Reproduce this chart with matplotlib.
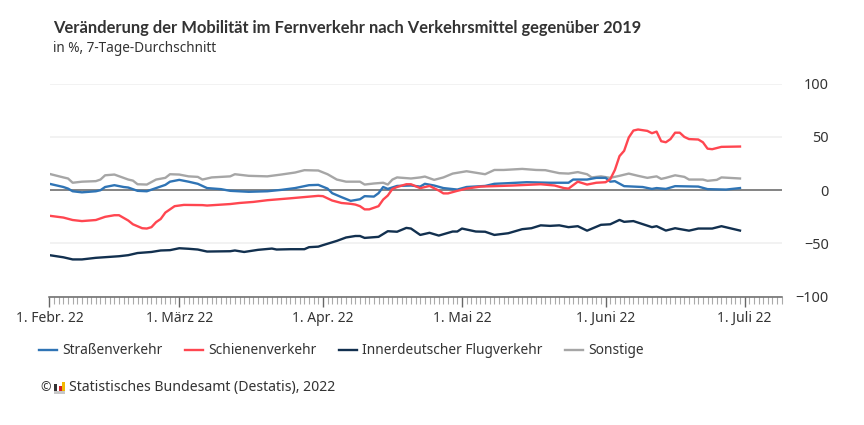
import pandas as pd
import matplotlib
matplotlib.use('Agg')
import matplotlib.pyplot as plt
from matplotlib.lines import Line2D
from matplotlib.patches import Rectangle

plt.rcParams['font.family'] = ['Noto Sans', 'DejaVu Sans']

START = pd.Timestamp('2022-02-01')

# Werte: Tag seit 1. Februar, Veraenderung in %
strasse_tage = [0, 3, 4, 5, 7, 10, 11, 12, 14, 16, 17, 19, 21, 23, 25, 26, 28, 30, 32, 34, 37, 39, 43, 47, 50, 53,
                56, 58, 60, 61, 63, 65, 67, 68, 70, 71, 72, 73, 75, 78, 80, 81, 83, 85, 88, 90, 94, 96, 99, 103,
                108, 110, 112, 113, 116, 118, 120, 121, 122, 124, 128, 130, 131, 133, 135, 140, 142, 146, 149]
strasse = [6, 3, 1.5, -1, -2, -1, 0, 3, 4.7, 3, 2.5, -0.6, -1, 2, 5, 8, 9.7, 8, 6, 2, 1, -0.6, -1.5, -1, 0.3, 2,
           4.7, 5, 1.5, -2.8, -6.5, -10, -8.5, -5.6, -6, -2.8, 3, 1.2, 4, 4.4, 3.4, 6, 4.4, 2, 0.6, 3, 4, 6, 6.6, 7.5,
           7, 7, 7, 10, 10, 11.6, 11.6, 8, 8.5, 3.8, 3, 1.2, 2, 1.2, 3.8, 3.4, 1, 0.6, 2]

schiene_tage = [0, 3, 5, 7, 10, 12, 14, 15, 17, 18, 20, 21, 22, 23, 24, 25, 27, 29, 33, 34, 39, 41, 44, 47, 52,
                58, 59, 61, 63, 65, 66, 67, 68, 69, 71, 72, 73, 74, 75, 77, 78, 80, 82, 84, 85, 86, 88, 90, 93, 96,
                100, 106, 109, 111, 112, 114, 116, 118, 120, 121, 122, 123, 124, 125, 126, 127, 129, 130, 131, 132,
                133, 134, 135, 136, 137, 138, 140, 141, 142, 143, 145, 149]
schiene = [-24, -25.7, -28, -29, -28, -25, -23.5, -23.5, -28.5, -32, -35.7, -36, -34.7, -30, -27, -21, -15, -13.8, -14,
           -14.4, -13, -12, -11, -9.4, -7.6, -5.3, -5.6, -9.7, -12, -12.8, -13.5, -15, -18, -18, -15, -8.8, -5, 1.2, 3,
           5.6, 5.6, 1.9, 4, -0.3, -3, -3, -0.6, 1.5, 3.4, 3.8, 4.4, 5.6, 4.4, 2, 1.5, 8, 5.3, 7, 7.5, 10.3, 19, 32, 37,
           49.5, 56, 57, 55.7, 53.5, 55, 46, 45, 48, 54, 54, 50, 48, 47.6, 45, 39, 38.5, 40.7, 41]

flug_tage = [0, 3, 5, 7, 10, 15, 17, 19, 22, 24, 26, 28, 30, 32, 34, 39, 40, 42, 45, 48, 49, 52, 55, 56, 58, 59, 62,
             64, 66, 67, 68, 71, 73, 75, 77, 78, 80, 82, 84, 87, 88, 89, 92, 94, 96, 99, 102, 104, 106, 108,
             110, 112, 114, 116, 119, 121, 123, 124, 126, 130, 131, 133, 135, 138, 140, 143, 145, 149]
flug = [-61, -63, -65, -65, -63.5, -62, -61, -59, -58, -56.6, -56.3, -54.5, -55, -55.7, -57.6, -57.3, -56.6, -58, -56,
        -54.8, -55.7, -55.4, -55.4, -53.5, -53, -51.6, -47.6, -44.4, -43, -43, -44.8, -43.8, -38.5, -39, -35.4, -36,
        -42, -40, -42.6, -38.8, -38.8, -36, -38.8, -39, -42, -40.4, -36.6, -35.7, -33, -33.5,
        -33, -34.7, -33.8, -38, -32.5, -32, -27.9, -29.7, -29, -34.7, -33.8, -37.9, -35.7, -38, -36, -36, -33.8, -37.9]

sonstige_tage = [0, 3, 4, 5, 7, 10, 11, 12, 14, 17, 18, 19, 21, 23, 25, 26, 28, 30, 32, 33, 35, 39, 40, 43, 47, 50, 53,
                 55, 58, 60, 62, 64, 67, 68, 70, 72, 73, 74, 75, 78, 80, 81, 83, 85, 87, 90, 94, 96, 98, 102, 105, 107,
                 110, 112, 114, 116, 117, 119, 121, 123, 125, 127, 129, 131, 132, 133, 135, 137, 138, 141, 142, 144,
                 145, 149]
sonstige = [15.3, 12, 11, 7, 8, 8.5, 10, 14, 14.7, 10, 9, 5.6, 5.3, 10, 11.6, 15, 14.7, 13, 12.5, 10, 12, 13, 15, 13.5,
            13, 14.7, 16.6, 18.8, 18.5, 15, 10, 8, 8, 5.3, 6.3, 7, 5.3, 10, 12, 11, 12, 12.8, 9.7, 12, 15.6, 17.8, 15,
            19, 19, 20, 19, 18.8, 16, 15.6, 17, 15, 12, 13, 11.6, 13.5, 15.6, 13.5, 11.6, 13, 10.6, 11.6, 14, 12.5, 10,
            10, 8.8, 9.7, 12, 11]

monate = ['2022-02-01', '2022-03-01', '2022-04-01', '2022-05-01', '2022-06-01', '2022-07-01']
monat_labels = ['1. Febr. 22', '1. März 22', '1. Apr. 22', '1. Mai 22', '1. Juni 22', '1. Juli 22']
y_ticks = [-100, -50, 0, 50, 100]
legende = ['Straßenverkehr', 'Schienenverkehr', 'Innerdeutscher Flugverkehr', 'Sonstige']

BLAU = '#2f74b5'
ROT = '#ff4650'
NAVY = '#12304f'
GRAU = '#a6a6a6'
TEXT = '#333333'


def datum(tage):
    return START + pd.to_timedelta(tage, unit='D')


W, H = 864, 425
fig = plt.figure(figsize=(W / 100, H / 100), dpi=100)
ax = fig.add_axes([49.5 / W, 1 - 296.7 / H, (781.7 - 49.5) / W, (296.7 - 83.7) / H])

# Linien, Reihenfolge wie im Original (Sonstige ganz hinten)
ax.plot(datum(sonstige_tage), sonstige, color=GRAU, lw=1.7, zorder=3)
ax.plot(datum(flug_tage), flug, color=NAVY, lw=1.7, zorder=4)
ax.plot(datum(strasse_tage), strasse, color=BLAU, lw=1.7, zorder=4)
ax.plot(datum(schiene_tage), schiene, color=ROT, lw=1.7, zorder=5)
ax.axhline(0.5, color='#666666', lw=1.1, zorder=2)

ax.set_xlim(START, datum(158))
ax.set_ylim(-100, 100)
ax.set_yticks(y_ticks)
ax.yaxis.tick_right()
ax.grid(axis='y', color='#f0f0f0', lw=1.2)
ax.set_axisbelow(True)

ax.set_xticks(pd.to_datetime(monate))
ax.set_xticklabels(monat_labels)
ax.set_xticks(pd.date_range(START, datum(158), freq='D'), minor=True)
ax.tick_params(axis='x', which='major', length=7, width=1, color='#666666', labelsize=10,
               labelcolor=TEXT, pad=3)
ax.tick_params(axis='x', which='minor', length=5, width=0.8, color='#aaaaaa')
ax.tick_params(axis='y', length=0, labelsize=10.4, labelcolor=TEXT, pad=0)
for label in ax.get_yticklabels():
    label.set_horizontalalignment('right')
    label.set_x(1.0645)

for s in ['top', 'left', 'right']:
    ax.spines[s].set_visible(False)
ax.spines['bottom'].set_color('#666666')
ax.spines['bottom'].set_linewidth(1.1)

fig.text(53 / W, 1 - 28 / H, 'Veränderung der Mobilität im Fernverkehr nach Verkehrsmittel gegenüber 2019',
         fontsize=11.9, fontweight='bold', family=['Lato', 'DejaVu Sans'], color=TEXT, va='center')
fig.text(53 / W, 1 - 48 / H, 'in %, 7-Tage-Durchschnitt', fontsize=9.8, color=TEXT, va='center')

# Legende von Hand, damit die Abstaende stimmen
farben = [BLAU, ROT, NAVY, GRAU]
legende_x = [39, 185, 339, 565]
for name, farbe, x0 in zip(legende, farben, legende_x):
    fig.add_artist(Line2D([x0 / W, (x0 + 18) / W], [1 - 350 / H] * 2, color=farbe, lw=1.7))
    fig.text((x0 + 23) / W, 1 - 350 / H, name, fontsize=9.9, color=TEXT, va='center')

# Quelle mit kleinem Logo
fig.text(40 / W, 1 - 387.5 / H, '©', fontsize=9, color=TEXT, va='center')
for x0, y0, b, h, c in [(54, 384, 3, 7, '#333333'), (59, 386, 3, 5, '#d2232a'), (62, 382, 3, 9, '#f2b800'),
                        (54, 391, 11, 3, '#c8c8c8')]:
    fig.add_artist(Rectangle((x0 / W, 1 - (y0 + h) / H), b / W, h / H, transform=fig.transFigure, color=c, lw=0))
fig.text(69 / W, 1 - 387.5 / H, 'Statistisches Bundesamt (Destatis), 2022', fontsize=10.15, color=TEXT, va='center')

fig.savefig('out.png', dpi=100)
